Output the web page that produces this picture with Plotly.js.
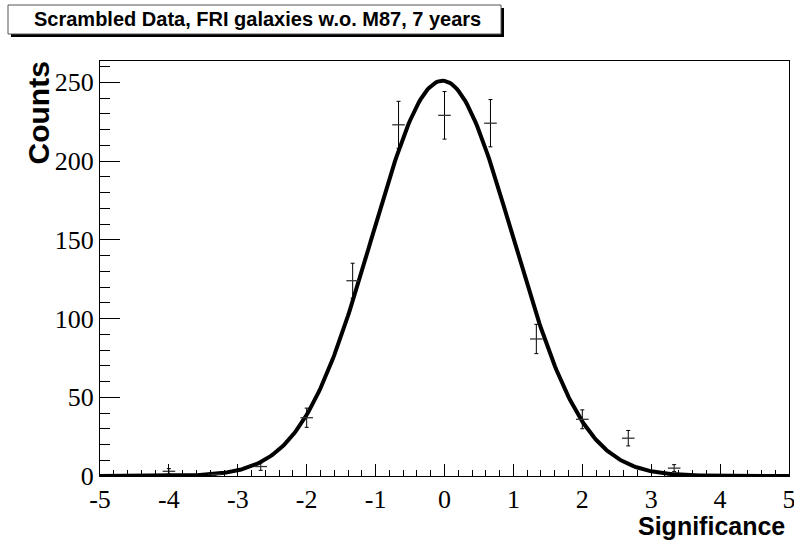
<!DOCTYPE html>
<html>
<head>
<meta charset="utf-8">
<script src="https://cdn.plot.ly/plotly-3.0.1.min.js"></script>
<style>html,body{margin:0;padding:0;background:#fff;}#chart{width:794px;height:548px;}</style>
</head>
<body>
<div id="chart"></div>
<script>
// Histogram bin centres (Significance) and counts
var binCenters = [-4.0, -3.333, -2.667, -2.0, -1.333, -0.667, 0.0, 0.667, 1.333, 2.0, 2.667, 3.333];
var counts     = [3, 1, 6, 37, 124, 223, 229, 224, 87, 36, 24, 5];
var countErrs  = [1.7, 1.0, 2.4, 6.1, 11.1, 14.9, 15.1, 15.0, 9.3, 6.0, 4.9, 2.2];
// Gaussian fit parameters: [constant, mean, sigma]
var fitParams = [251, -0.03, 1.02];
var xTickVals = [-5, -4, -3, -2, -1, 0, 1, 2, 3, 4, 5];
var yTickVals = [0, 50, 100, 150, 200, 250];
var titleText = "Scrambled Data, FRI galaxies w.o. M87, 7 years";

// fit curve evaluated from the fit function
var fitX = [], fitY = [];
for (var i = 0; i <= 400; i++) {
  var x = -5 + i * 0.025;
  fitX.push(x);
  var d = (x - fitParams[1]) / fitParams[2];
  fitY.push(fitParams[0] * Math.exp(-0.5 * d * d));
}

var L = 100, R = 789, T = 61, B = 476, W = 794, H = 548;
function px(p) { return (p - L) / (R - L); }
function py(p) { return (B - p) / (B - T); }

var traces = [
  {
    x: fitX, y: fitY, type: 'scatter', mode: 'lines',
    line: {color: '#000', width: 4}, hoverinfo: 'skip', cliponaxis: true
  },
  {
    x: binCenters, y: counts, type: 'scatter', mode: 'markers',
    marker: {symbol: 'line-ew-open', size: 9, color: '#333', line: {color: '#333', width: 1.3}},
    error_y: {type: 'data', array: countErrs, visible: true, color: '#000', thickness: 1, width: 2},
    cliponaxis: false
  }
];

var serif = 'Liberation Serif, Times New Roman, serif';
var sans = 'Liberation Sans, Arial, Helvetica, sans-serif';

// title box geometry (pixels)
var bx0 = 8, by0 = 5, bx1 = 501, by1 = 34, sh = 3;

var layout = {
  width: W, height: H,
  margin: {l: L, r: W - R, t: T, b: H - B, pad: 0},
  paper_bgcolor: '#fff', plot_bgcolor: '#fff',
  showlegend: false,
  xaxis: {
    range: [-5, 5], tickvals: xTickVals, ticktext: xTickVals.map(String),
    ticks: 'inside', ticklen: 12, tickwidth: 1, tickcolor: '#000',
    minor: {dtick: 0.2, tick0: 0, ticks: 'inside', ticklen: 6, tickwidth: 1, tickcolor: '#000', showgrid: false},
    showline: true, linecolor: '#000', linewidth: 1, mirror: true,
    showgrid: false, zeroline: false, ticklabeloverflow: 'allow',
    tickfont: {family: serif, size: 26, color: '#000'}
  },
  yaxis: {
    range: [0, 263.5], tickvals: yTickVals, ticktext: yTickVals.map(String),
    ticks: 'inside', ticklen: 20, tickwidth: 1, tickcolor: '#000',
    minor: {dtick: 10, tick0: 0, ticks: 'inside', ticklen: 10, tickwidth: 1, tickcolor: '#000', showgrid: false},
    showline: true, linecolor: '#000', linewidth: 1, mirror: true,
    showgrid: false, zeroline: false, ticklabeloverflow: 'allow',
    tickfont: {family: serif, size: 26, color: '#000'}
  },
  shapes: [
    {type: 'rect', xref: 'paper', yref: 'paper',
     x0: px(bx0 + sh), x1: px(bx1 + sh), y0: py(by1 + sh), y1: py(by0 + sh),
     fillcolor: '#000', line: {width: 0}},
    {type: 'rect', xref: 'paper', yref: 'paper',
     x0: px(bx0), x1: px(bx1), y0: py(by1), y1: py(by0),
     fillcolor: '#fff', line: {color: '#555', width: 1}}
  ],
  annotations: [
    {
      xref: 'paper', yref: 'paper', x: px(32), y: py((by0 + by1) / 2), xanchor: 'left', yanchor: 'middle',
      text: '<b>' + titleText + '</b>', showarrow: false,
      font: {family: sans, size: 20, color: '#000'}
    },
    {
      xref: 'paper', yref: 'paper', x: px(38), y: py(60), xanchor: 'center', yanchor: 'top',
      text: '<b>Counts</b>', showarrow: false, textangle: -90,
      font: {family: sans, size: 30, color: '#000'}
    },
    {
      xref: 'paper', yref: 'paper', x: px(787), y: py(526), xanchor: 'right', yanchor: 'middle',
      text: '<b>Significance</b>', showarrow: false,
      font: {family: sans, size: 25, color: '#000'}
    }
  ]
};

Plotly.newPlot('chart', traces, layout, {displayModeBar: false, staticPlot: true});
</script>
</body>
</html>
